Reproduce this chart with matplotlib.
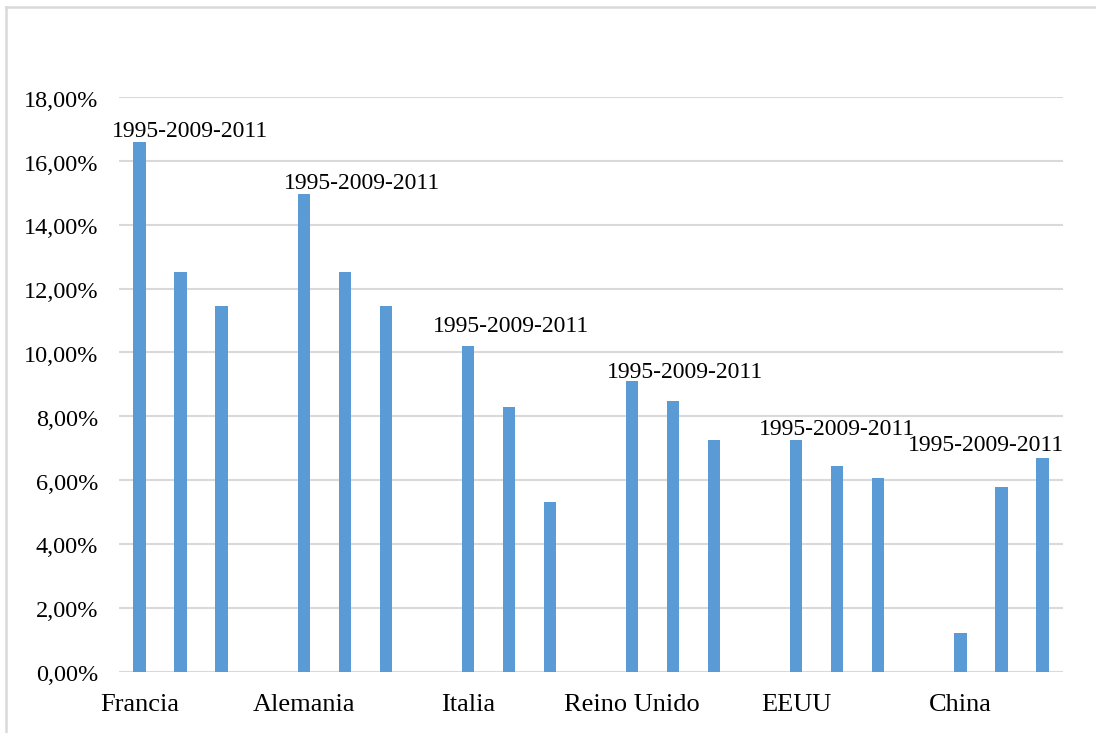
import matplotlib
matplotlib.use("Agg")
import matplotlib.pyplot as plt
from matplotlib.lines import Line2D
from matplotlib.transforms import blended_transform_factory, offset_copy

# Share by country for 1995, 2009 and 2011 (percent)
countries = ["Francia", "Alemania", "Italia", "Reino Unido", "EEUU", "China"]
years = ["1995", "2009", "2011"]
values = [
    [16.61, 12.53, 11.46],  # Francia
    [14.97, 12.53, 11.46],  # Alemania
    [10.19, 8.28, 5.30],    # Italia
    [9.11, 8.47, 7.26],     # Reino Unido
    [7.26, 6.45, 6.06],     # EEUU
    [1.20, 5.79, 6.69],     # China
]
series_label = "-".join(["1995", "2009", "2011"])
y_ticks = [0, 2, 4, 6, 8, 10, 12, 14, 16, 18]

# Placement of each group's series label (slot offset from the group's first bar, height in %)
label_pos = [(1.24, 16.94), (1.43, 15.31), (1.05, 10.80),
             (1.28, 9.36), (0.99, 7.60), (0.62, 7.07)]

BLUE = "#5B9BD5"
GRID = "#D9D9D9"
FONT = "Liberation Serif"

W, H = 1096, 733
fig = plt.figure(figsize=(W / 100, H / 100), dpi=100)
ax = fig.add_axes([119 / W, 1 - 671.5 / H, (1063 - 119) / W, (671.5 - 97.3) / H])

slots_per_group = len(years) + 1
xs, hs = [], []
for g, row in enumerate(values):
    for k, v in enumerate(row):
        xs.append(g * slots_per_group + k)
        hs.append(v)
ax.bar(xs, hs, width=0.3, color=BLUE, zorder=3)

for g, (dx, ty) in enumerate(label_pos):
    ax.text(g * slots_per_group + dx, ty, series_label, ha="center", va="center",
            fontsize=17, family=FONT, color="black", zorder=4)

n_slots = len(countries) * slots_per_group - 1
ax.set_xlim(-0.5, n_slots - 0.5)
ax.set_ylim(0, 18)
ax.set_yticks(y_ticks)
ax.set_yticklabels([])
ax.set_xticks([g * slots_per_group for g in range(len(countries))])
ax.set_xticklabels(countries)

# percentage labels on the value axis, set slightly below their gridlines
ylab_tr = offset_copy(blended_transform_factory(ax.transAxes, ax.transData),
                      fig=fig, x=-21, y=-4, units="dots")
for v in y_ticks:
    ax.text(0, v, f"{v:.2f}%".replace(".", ","), transform=ylab_tr,
            ha="right", va="center", fontsize=17.5, family=FONT, color="black")

ax.grid(axis="y", color=GRID, linewidth=1.5, zorder=0)
for s in ax.spines.values():
    s.set_visible(False)
ax.axhline(0, color=GRID, linewidth=1.8, zorder=2)
ax.tick_params(axis="both", length=0)
ax.tick_params(axis="x", pad=16, labelsize=19)
for lab in ax.get_xticklabels():
    lab.set_family(FONT)
    lab.set_color("black")

# chart area frame
fig.add_artist(Line2D([6 / W, 1], [1 - 6.5 / H, 1 - 6.5 / H], color=GRID, linewidth=1.8))
fig.add_artist(Line2D([6 / W, 6 / W], [0, 1 - 6.5 / H], color=GRID, linewidth=1.8))

fig.savefig("out.png", dpi=100, facecolor="white")
